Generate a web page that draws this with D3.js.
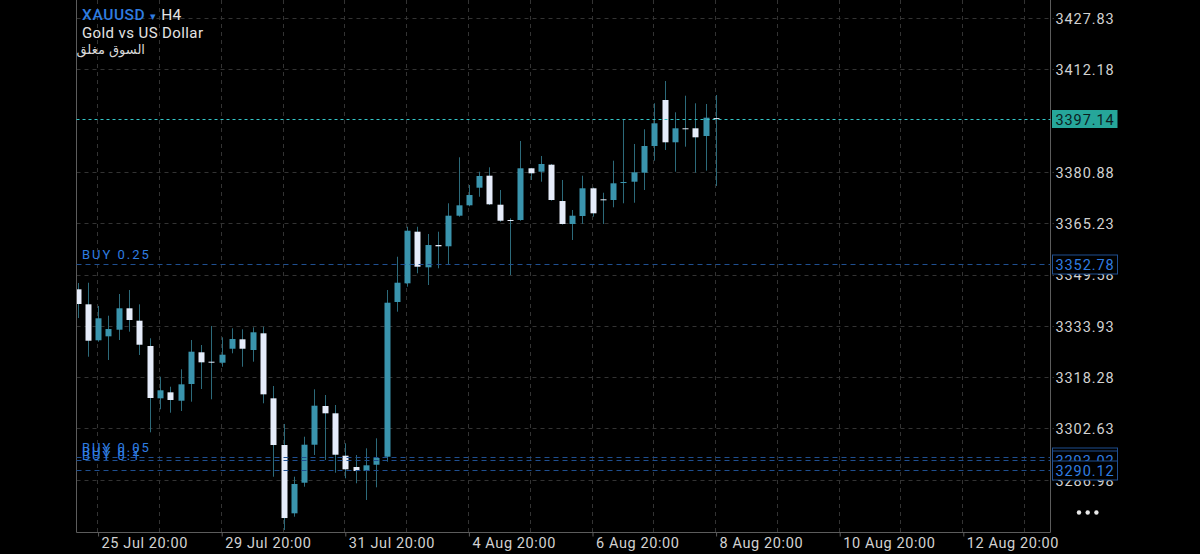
<!DOCTYPE html>
<html>
<head>
<meta charset="utf-8">
<script src="https://cdn.jsdelivr.net/npm/d3@7"></script>
<style>
  html, body { margin: 0; padding: 0; background: #000; }
  svg { display: block; }
</style>
</head>
<body>
<div id="chart"></div>
<script>
// XAUUSD H4 candles, oldest first (25 Jul 12:00 .. 8 Aug 20:00)
const opens = [
  3345.08, 3340.50, 3329.53, 3330.74, 3332.76, 3339.29, 3335.50, 3327.79, 3311.83, 3313.66,
  3311.10, 3316.20, 3325.87, 3323.00, 3322.69, 3326.96, 3329.83, 3326.57, 3331.66, 3311.83,
  3297.59, 3276.76, 3286.09, 3297.68, 3309.49, 3307.26, 3294.33, 3290.88, 3289.66, 3291.58,
  3294.02, 3341.21, 3346.91, 3362.65, 3351.79, 3358.59, 3358.20, 3367.53, 3370.70, 3376.07,
  3379.73, 3370.88, 3366.22, 3366.22, 3381.99, 3380.95, 3383.09, 3372.01, 3365.00, 3367.44,
  3375.89, 3372.53, 3372.32, 3377.50, 3377.90, 3380.65, 3388.79, 3402.82, 3389.92, 3394.19,
  3394.19, 3391.84, 3397.30
];
const highs = [
  3347.00, 3347.09, 3339.99, 3337.03, 3343.65, 3344.87, 3340.50, 3330.14, 3318.42, 3315.37,
  3320.68, 3329.62, 3328.09, 3333.89, 3330.44, 3333.19, 3332.88, 3333.49, 3333.67, 3315.59,
  3304.00, 3287.92, 3300.12, 3314.58, 3312.84, 3309.79, 3298.11, 3294.54, 3296.58, 3299.63,
  3344.87, 3355.02, 3364.17, 3364.17, 3361.95, 3362.65, 3371.31, 3385.34, 3376.89, 3380.95,
  3382.29, 3375.37, 3366.74, 3390.31, 3382.10, 3385.74, 3383.30, 3378.42, 3369.27, 3379.73,
  3376.10, 3374.54, 3384.31, 3396.93, 3389.40, 3393.88, 3401.81, 3408.61, 3399.07, 3404.13,
  3401.81, 3401.60, 3404.34
];
const lows = [
  3336.33, 3324.52, 3329.10, 3323.52, 3329.62, 3332.15, 3325.04, 3301.46, 3308.48, 3307.44,
  3307.96, 3310.80, 3314.67, 3311.53, 3321.47, 3325.56, 3321.47, 3323.00, 3310.31, 3287.92,
  3271.66, 3275.72, 3284.87, 3294.54, 3293.02, 3289.14, 3287.43, 3285.91, 3280.82, 3284.69,
  3292.50, 3338.25, 3345.87, 3349.96, 3346.39, 3351.49, 3352.49, 3367.22, 3370.40, 3373.32,
  3370.79, 3365.70, 3349.44, 3366.00, 3378.42, 3377.90, 3372.10, 3364.80, 3360.12, 3365.00,
  3367.22, 3365.00, 3370.09, 3371.31, 3371.49, 3375.37, 3384.31, 3387.57, 3380.95, 3388.58,
  3380.65, 3381.26, 3376.59
];
const closes = [
  3340.60, 3329.40, 3336.24, 3332.97, 3339.29, 3335.72, 3328.18, 3311.93, 3314.28, 3311.32,
  3316.10, 3326.05, 3322.81, 3322.85, 3325.13, 3329.92, 3326.96, 3331.97, 3313.05, 3297.59,
  3275.32, 3285.70, 3297.68, 3309.58, 3307.26, 3294.63, 3290.18, 3289.66, 3291.40, 3293.63,
  3340.99, 3347.09, 3362.95, 3351.97, 3358.59, 3358.20, 3367.53, 3370.70, 3373.84, 3379.64,
  3371.01, 3366.00, 3366.00, 3381.99, 3380.46, 3383.30, 3372.32, 3365.00, 3367.53, 3375.89,
  3368.26, 3372.32, 3377.41, 3377.81, 3380.77, 3388.79, 3395.71, 3389.92, 3394.19, 3394.07,
  3391.44, 3397.42, 3397.14
];

// price axis
const priceTicks = [3427.83, 3412.18, 3396.53, 3380.88, 3365.23, 3349.58, 3333.93, 3318.28, 3302.63, 3286.98];

// time axis (bar index of each label, bars continue into the future)
const timeLabels = ["25 Jul 20:00", "29 Jul 20:00", "31 Jul 20:00", "4 Aug 20:00",
  "6 Aug 20:00", "8 Aug 20:00", "10 Aug 20:00", "12 Aug 20:00"];
const timeLabelBars = [2, 14, 26, 38, 50, 62, 74, 86];
const gridBars = [2, 8, 14, 20, 26, 32, 38, 44, 50, 56, 62, 68, 74, 80, 86, 92];

// open orders
const orderLabels = ["BUY 0.25", "BUY 0.05", "BUY 0.2", "BUY 0.1"];
const orderPrices = [3352.78, 3294.02, 3293.02, 3290.12];
const lastPrice = 3397.14;

const width = 1200;
const height = 554;
const plot = { left: 76.5, right: 1050.5, top: 0, bottom: 532.5 };
const font = "Roboto, 'Liberation Sans', sans-serif";

const upColor = "#3a94ad";
const downColor = "#e6ecfa";
const wickColor = "#2c6a7a";
const gridColor = "#333";
const borderColor = "#5c5c5c";
const axisText = "#d2d2d2";
const orderBlue = "#2f7de1";
const orderLine = "#1f4f90";
const lastColor = "#26a69a";

const x = d3.scaleLinear().domain([0, 92]).range([77.5, 77.5 + 92 * 10.3]);
const y = d3.scaleLinear().domain([3286.98, 3427.83]).range([479.8, 18]);

const candles = opens.map((o, i) => ({
  i, o, h: highs[i], l: lows[i], c: closes[i]
}));

const svg = d3.select("#chart")
  .append("svg")
  .attr("width", width)
  .attr("height", height)
  .style("background", "#000");

svg.append("defs").append("clipPath")
  .attr("id", "plot-clip")
  .append("rect")
  .attr("x", plot.left)
  .attr("y", plot.top)
  .attr("width", plot.right - plot.left)
  .attr("height", plot.bottom - plot.top);

// horizontal grid (the one under the last price line is covered by it)
svg.append("g")
  .selectAll("line")
  .data(priceTicks.filter((d) => Math.abs(y(d) - y(lastPrice)) > 4))
  .enter()
  .append("line")
  .attr("x1", plot.left)
  .attr("x2", plot.right + 3.5)
  .attr("y1", (d) => Math.round(y(d)) + 0.5)
  .attr("y2", (d) => Math.round(y(d)) + 0.5)
  .style("stroke", gridColor)
  .style("stroke-dasharray", "4,4");

// vertical grid
svg.append("g")
  .selectAll("line")
  .data(gridBars)
  .enter()
  .append("line")
  .attr("x1", (d) => Math.round(x(d)) - 0.5)
  .attr("x2", (d) => Math.round(x(d)) - 0.5)
  .attr("y1", plot.top)
  .attr("y2", plot.bottom)
  .style("stroke", gridColor)
  .style("stroke-dasharray", "4,4");

// candles
const cg = svg.append("g").attr("clip-path", "url(#plot-clip)");

cg.selectAll("line.wick")
  .data(candles)
  .enter()
  .append("line")
  .attr("class", "wick")
  .attr("x1", (d) => Math.round(x(d.i)) + 0.5)
  .attr("x2", (d) => Math.round(x(d.i)) + 0.5)
  .attr("y1", (d) => y(d.h))
  .attr("y2", (d) => y(d.l))
  .style("stroke", wickColor)
  .style("stroke-width", 1);

cg.selectAll("rect.body")
  .data(candles)
  .enter()
  .append("rect")
  .attr("class", "body")
  .attr("x", (d) => Math.round(x(d.i)) - 2.5)
  .attr("width", 6)
  .attr("y", (d) => y(Math.max(d.o, d.c)))
  .attr("height", (d) => Math.max(1, Math.abs(y(d.o) - y(d.c))))
  .style("fill", (d) => (d.c >= d.o ? upColor : downColor));

// plot border
svg.append("path")
  .attr("d", `M${plot.left},${plot.top}V${plot.bottom}H${plot.right}V${plot.top}`)
  .style("fill", "none")
  .style("stroke", borderColor)
  .style("stroke-width", 1);

// price axis
const yAxis = svg.append("g")
  .attr("transform", `translate(${plot.right},0)`)
  .call(d3.axisRight(y).tickValues(priceTicks).tickSize(0).tickPadding(5).tickFormat(d3.format(".2f")));
yAxis.select(".domain").remove();
yAxis.selectAll("text")
  .attr("dy", "0.36em")
  .style("font-family", font)
  .style("font-size", "14.5px")
  .style("letter-spacing", "0.9px")
  .style("fill", axisText);

// time axis
const xAxis = svg.append("g")
  .attr("transform", `translate(0,${plot.bottom})`)
  .call(d3.axisBottom(x).tickValues(timeLabelBars).tickSize(4).tickFormat((d, i) => timeLabels[i]));
xAxis.select(".domain").remove();
xAxis.selectAll(".tick line").style("stroke", borderColor);
xAxis.selectAll("text")
  .attr("text-anchor", "start")
  .attr("x", 3)
  .attr("y", 15.5)
  .attr("dy", null)
  .style("font-family", font)
  .style("font-size", "14.5px")
  .style("letter-spacing", "0.6px")
  .style("fill", axisText);

// order lines
const orders = orderLabels.map((label, k) => ({ label, price: orderPrices[k] }));

svg.append("g")
  .selectAll("line")
  .data(orders)
  .enter()
  .append("line")
  .attr("x1", plot.left)
  .attr("x2", plot.right)
  .attr("y1", (d) => Math.round(y(d.price)) + 0.5)
  .attr("y2", (d) => Math.round(y(d.price)) + 0.5)
  .style("stroke", orderLine)
  .style("stroke-dasharray", "5,4");

// stack labels that sit too close together
const sorted = orders.slice().sort((a, b) => b.price - a.price);
let prevBase = -Infinity;
sorted.forEach((d) => {
  let base = y(d.price) - 5;
  if (base - prevBase < 12) base = prevBase + 4;
  d.base = base;
  prevBase = base;
});

svg.append("g")
  .selectAll("text")
  .data(orders)
  .enter()
  .append("text")
  .attr("x", 82)
  .attr("y", (d) => d.base)
  .text((d) => d.label)
  .style("font-family", font)
  .style("font-size", "13px")
  .style("letter-spacing", "2px")
  .style("fill", orderBlue);

// order price tags
const tags = svg.append("g")
  .selectAll("g")
  .data(orders)
  .enter()
  .append("g")
  .attr("transform", (d) => `translate(1052.5,${Math.round(y(d.price)) + 0.5})`);

tags.append("rect")
  .attr("x", 0)
  .attr("y", -9.5)
  .attr("width", 65)
  .attr("height", 19)
  .style("fill", "#000")
  .style("stroke", orderLine);

tags.append("text")
  .attr("x", 3)
  .attr("y", 5.5)
  .text((d) => d3.format(".2f")(d.price))
  .style("font-family", font)
  .style("font-size", "14.5px")
  .style("letter-spacing", "0.9px")
  .style("fill", orderBlue);

// last price line and tag
svg.append("line")
  .attr("x1", plot.left)
  .attr("x2", plot.right)
  .attr("y1", Math.round(y(lastPrice)) + 0.5)
  .attr("y2", Math.round(y(lastPrice)) + 0.5)
  .style("stroke", "#35c6c8")
  .style("stroke-width", 1.2)
  .style("stroke-dasharray", "3,3");

const lastTag = svg.append("g")
  .attr("transform", `translate(1052,${Math.round(y(lastPrice))})`);

lastTag.append("rect")
  .attr("x", 0)
  .attr("y", -9)
  .attr("width", 65.5)
  .attr("height", 18)
  .style("fill", lastColor);

lastTag.append("text")
  .attr("x", 3.5)
  .attr("y", 5.5)
  .text(d3.format(".2f")(lastPrice))
  .style("font-family", font)
  .style("font-size", "14.5px")
  .style("letter-spacing", "0.9px")
  .style("fill", "#0c1d1f");

// header
const header = svg.append("text")
  .attr("x", 82)
  .attr("y", 20)
  .style("font-family", font)
  .style("font-size", "15.5px");
header.append("tspan")
  .text("XAUUSD")
  .style("fill", orderBlue)
  .style("font-weight", 500)
  .style("letter-spacing", "0.6px");
header.append("tspan")
  .attr("dx", 5)
  .text("▾")
  .style("fill", orderBlue)
  .style("font-size", "11px");
header.append("tspan")
  .attr("dx", 5)
  .text("H4")
  .style("fill", "#e4e4e4");

svg.append("text")
  .attr("x", 82)
  .attr("y", 38)
  .text("Gold vs US Dollar")
  .style("font-family", font)
  .style("font-size", "15px")
  .style("letter-spacing", "0.4px")
  .style("fill", "#e4e4e4");

svg.append("text")
  .attr("x", 145)
  .attr("y", 54)
  .attr("text-anchor", "end")
  .text("السوق مغلق")
  .style("font-family", "'DejaVu Sans', sans-serif")
  .style("font-size", "13px")
  .style("fill", "#d8d8d8");

// menu dots
svg.append("g")
  .selectAll("circle")
  .data([0, 1, 2])
  .enter()
  .append("circle")
  .attr("cx", (d) => 1079 + d * 8.7)
  .attr("cy", 512.5)
  .attr("r", 2.2)
  .style("fill", "#e8e8e8");
</script>
</body>
</html>
